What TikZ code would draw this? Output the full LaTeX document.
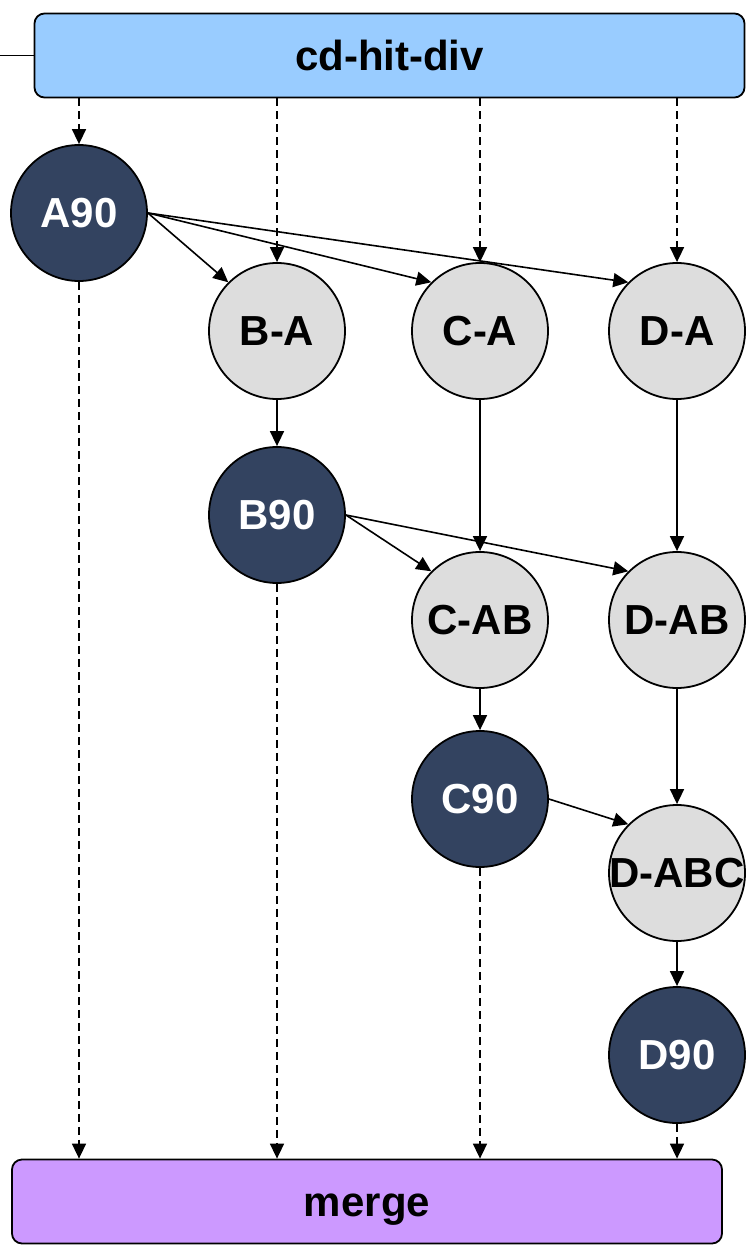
\documentclass[tikz,border=0pt]{standalone}
\usepackage{fontspec}
\setmainfont{Liberation Sans}
\usetikzlibrary{arrows.meta}
\definecolor{divblue}{HTML}{99CCFF}
\definecolor{mergeviolet}{HTML}{CC99FF}
\definecolor{restgrey}{HTML}{DDDDDD}
\definecolor{clustnavy}{HTML}{334360}
\newcommand{\seqname}[1]{\makebox[0pt]{#1}}
\begin{document}
\begin{tikzpicture}[x=0.5pt, y=-0.5pt,
    every node/.style={font=\fontsize{21}{25}\selectfont\bfseries},
    stage/.style={draw, rounded corners=5pt, line width=0.9pt, minimum width=355pt, minimum height=42pt, inner sep=0pt, text height=15pt, text depth=0pt},
    seq/.style={circle, draw, line width=0.9pt, minimum size=68pt, inner sep=0pt},
    clust/.style={seq, fill=clustnavy, text=white},
    rest/.style={seq, fill=restgrey},
    link/.style={-{Triangle[length=7.5pt,width=7pt]}, line width=0.8pt},
    feed/.style={link, dash pattern=on 4pt off 2.5pt}]
    \useasboundingbox (0,0) rectangle (748,1245);
    \node[stage, fill=divblue] (div) at (389.5,55.5) {cd-hit-div};
    \node[stage, fill=mergeviolet] (merge) at (367,1201.5) {merge};
    \coordinate (in) at (0,55.5);
    \draw[line width=0.8pt] (in) -- (div.west);
    % round one
    \node[clust] (A90) at (79,213) {\seqname{A90}};
    \node[rest] (BA) at (277,331) {\seqname{B-A}};
    \node[rest] (CA) at (480,331) {\seqname{C-A}};
    \node[rest] (DA) at (677,331) {\seqname{D-A}};
    % round two
    \node[clust] (B90) at (277,515) {\seqname{B90}};
    \node[rest] (CAB) at (480,620) {\seqname{C-AB}};
    \node[rest] (DAB) at (677,620) {\seqname{D-AB}};
    % round three and four
    \node[clust] (C90) at (480,799) {\seqname{C90}};
    \node[rest] (DABC) at (677,873) {\seqname{D-ABC}};
    \node[clust] (D90) at (677,1055) {\seqname{D90}};
    \foreach \n in {A90, BA, CA, DA}
        \draw[feed] (\n |- div.south) -- (\n.north);
    \foreach \n in {A90, B90, C90, D90}
        \draw[feed] (\n.south) -- (\n |- merge.north);
    \foreach \n in {BA, CA, DA}
        \draw[link] (A90.east) -- (\n.north west);
    \foreach \n in {CAB, DAB}
        \draw[link] (B90.east) -- (\n.north west);
    \draw[link] (C90.east) -- (DABC.north west);
    \draw[link] (BA) -- (B90);
    \draw[link] (CA) -- (CAB);
    \draw[link] (DA) -- (DAB);
    \draw[link] (CAB) -- (C90);
    \draw[link] (DAB) -- (DABC);
    \draw[link] (DABC) -- (D90);
\end{tikzpicture}
\end{document}
